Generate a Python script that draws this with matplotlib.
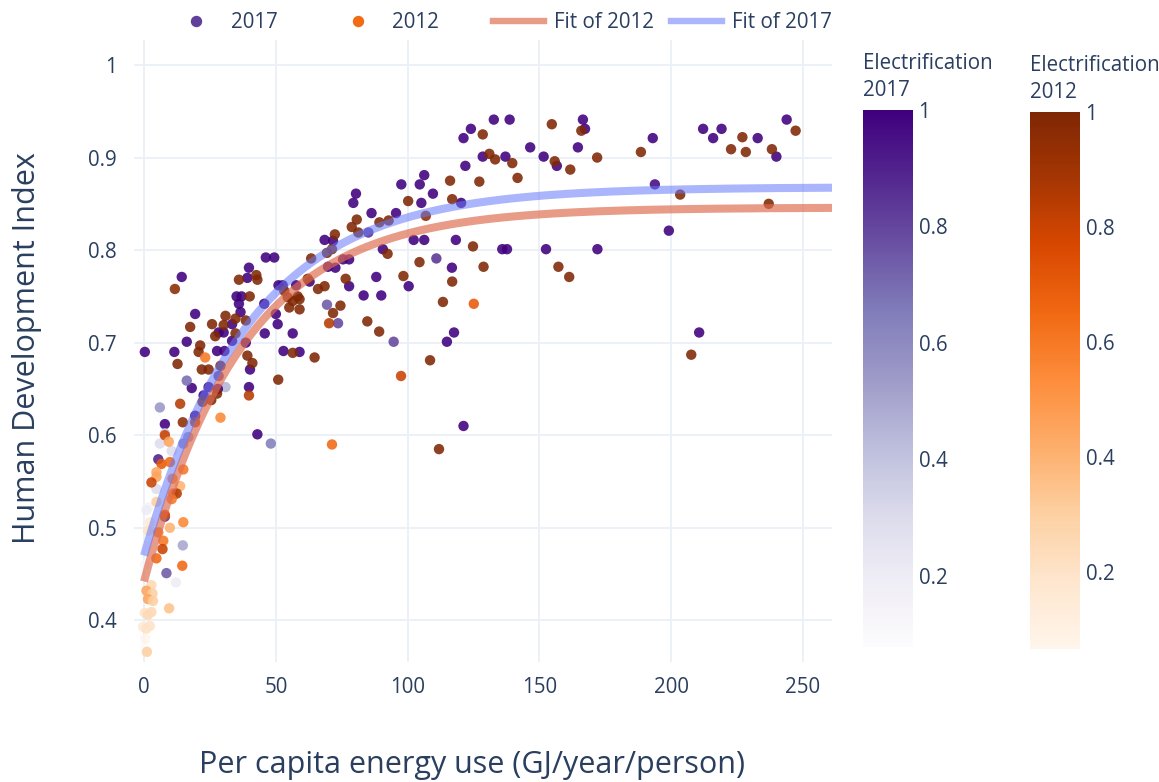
import numpy as np
import matplotlib
matplotlib.use("Agg")
import matplotlib.pyplot as plt
from matplotlib.lines import Line2D
from matplotlib.colors import Normalize
from matplotlib.cm import ScalarMappable

plt.rcParams['font.family'] = ['Open Sans', 'DejaVu Sans']

# ---------------- data ----------------
# 2017: per-capita energy use (GJ), HDI, electrification share
x17 = [166.5, 167.3, 164.6, 156.6, 193.0, 193.8, 199.1, 172.0, 210.6, 212.1, 215.9, 219.1, 232.8, 239.9, 243.8,
       132.7, 138.7, 124.0, 121.2, 128.5, 137.1, 146.5, 151.6, 121.9, 120.3, 97.6, 104.6, 106.3, 109.6, 105.2,
       95.6, 80.4, 79.4, 86.3, 85.1, 90.6, 102.3, 106.3, 118.3, 135.9, 137.7, 152.5, 116.8, 110.9, 100.4,
       88.1, 90.0, 83.3, 77.8, 62.8, 68.5, 71.7, 72.6, 69.8, 75.5, 77.8, 69.4, 73.6, 94.7, 117.6, 114.9, 121.2,
       46.2, 49.4, 39.8, 39.2, 35.1, 37.0, 36.0, 45.6, 36.6, 51.0, 52.6, 33.4, 30.2, 28.3, 33.4, 45.8, 50.7,
       50.0, 38.6, 56.4, 57.7, 27.7, 30.5, 52.9, 59.0, 40.2, 28.3, 30.9, 39.8, 24.5, 28.0, 18.1, 16.2, 22.6,
       19.4, 7.9, 6.0, 43.0, 48.1, 0.3, 11.5, 14.3, 19.4, 16.2,
       6.0, 7.9, 10.5, 14.9, 16.8, 5.4, 4.7, 1.5, 0.9, 7.9, 14.7, 8.5, 12.1, 0.3, 1.0, 0.5]
hdi17 = [0.941, 0.931, 0.911, 0.891, 0.921, 0.871, 0.821, 0.801, 0.711, 0.931, 0.921, 0.931, 0.921, 0.901, 0.941,
         0.941, 0.941, 0.931, 0.921, 0.901, 0.901, 0.911, 0.901, 0.891, 0.851, 0.871, 0.871, 0.881, 0.861, 0.851,
         0.840, 0.861, 0.851, 0.840, 0.819, 0.801, 0.811, 0.811, 0.811, 0.801, 0.801, 0.801, 0.781, 0.791, 0.761,
         0.771, 0.751, 0.751, 0.761, 0.766, 0.811, 0.810, 0.781, 0.782, 0.790, 0.790, 0.741, 0.721, 0.701, 0.711, 0.701, 0.610,
         0.792, 0.792, 0.781, 0.770, 0.750, 0.750, 0.742, 0.742, 0.733, 0.762, 0.762, 0.720, 0.711, 0.711, 0.702, 0.710, 0.720,
         0.731, 0.700, 0.710, 0.762, 0.691, 0.691, 0.691, 0.690, 0.671, 0.664, 0.652, 0.652, 0.652, 0.650, 0.651, 0.659, 0.643,
         0.621, 0.612, 0.630, 0.601, 0.591, 0.690, 0.690, 0.771, 0.731, 0.701,
         0.591, 0.602, 0.583, 0.591, 0.598, 0.574, 0.542, 0.522, 0.519, 0.512, 0.481, 0.451, 0.441, 0.371, 0.480, 0.460]
elec17 = [1.0, 1.0, 1.0, 1.0, 1.0, 0.97, 1.0, 1.0, 1.0, 1.0, 1.0, 1.0, 1.0, 1.0, 1.0,
          1.0, 1.0, 1.0, 1.0, 1.0, 1.0, 1.0, 1.0, 1.0, 1.0, 1.0, 1.0, 1.0, 1.0, 1.0,
          1.0, 1.0, 1.0, 1.0, 0.85, 1.0, 1.0, 1.0, 1.0, 1.0, 1.0, 1.0, 1.0, 0.85, 1.0,
          1.0, 1.0, 1.0, 1.0, 1.0, 1.0, 1.0, 1.0, 1.0, 1.0, 1.0, 0.75, 0.8, 0.8, 1.0, 1.0, 1.0,
          1.0, 1.0, 1.0, 1.0, 1.0, 1.0, 1.0, 1.0, 1.0, 1.0, 1.0, 1.0, 1.0, 1.0, 1.0, 1.0, 1.0,
          1.0, 1.0, 1.0, 1.0, 1.0, 1.0, 1.0, 1.0, 1.0, 0.8, 0.45, 1.0, 1.0, 1.0, 1.0, 0.7, 1.0,
          1.0, 1.0, 0.55, 1.0, 0.65, 1.0, 1.0, 1.0, 1.0, 1.0,
          0.3, 0.35, 0.3, 0.6, 0.55, 0.9, 0.3, 0.15, 0.2, 0.85, 0.5, 0.75, 0.2, 0.078, 0.1, 0.12]

# 2012
x12 = [165.9, 154.7, 155.8, 161.7, 171.9, 188.5, 203.4, 157.2, 161.3, 207.6, 222.7, 227.0, 228.3, 238.2, 247.2, 237.0,
       128.5, 131.0, 133.2, 139.7, 141.7, 116.1, 127.2, 116.9, 100.2, 106.9, 78.8, 80.7, 81.3, 89.3, 92.8, 92.4,
       124.8, 128.8, 116.9, 104.5, 98.4, 76.5, 63.4, 66.0, 68.5, 72.4, 69.4, 71.3, 74.5, 71.7, 70.2, 84.7, 89.2,
       113.4, 125.1, 64.7, 108.5, 97.5, 71.3, 111.9, 59.0, 59.0,
       36.0, 42.6, 43.0, 40.1, 30.9, 34.7, 25.8, 38.6, 27.0, 34.7, 30.2, 21.3, 20.7, 23.2, 56.4, 39.2, 41.1, 29.0,
       21.9, 24.5, 50.9, 39.8, 27.7, 22.2, 29.0, 11.7, 17.5, 12.7, 13.7, 14.7, 25.5, 19.4, 53.2, 54.5, 56.4, 58.3,
       55.1, 62.1,
       7.9, 9.4, 6.6, 9.8, 4.7, 4.7, 2.8, 14.9, 10.8, 13.7, 11.1, 12.4, 4.7, 7.9, 10.5, 14.9, 9.8, 14.5, 7.3, 7.0,
       4.7, 5.4, 2.2, 1.5, 2.8, 0.9, 3.2, 1.5, 3.4, 9.5, 2.8, 0.3, 1.5, -0.4, 2.2, 0.9, 1.1, 0.5]
hdi12 = [0.929, 0.936, 0.896, 0.887, 0.900, 0.906, 0.860, 0.782, 0.771, 0.687, 0.909, 0.922, 0.906, 0.909, 0.929, 0.850,
         0.925, 0.904, 0.898, 0.894, 0.878, 0.875, 0.874, 0.855, 0.853, 0.837, 0.825, 0.833, 0.819, 0.830, 0.832, 0.796,
         0.804, 0.782, 0.766, 0.787, 0.772, 0.769, 0.791, 0.758, 0.761, 0.817, 0.797, 0.801, 0.740, 0.732, 0.721, 0.723, 0.712,
         0.744, 0.742, 0.684, 0.681, 0.664, 0.590, 0.585, 0.747, 0.736,
         0.768, 0.773, 0.768, 0.750, 0.729, 0.726, 0.720, 0.724, 0.707, 0.710, 0.719, 0.697, 0.690, 0.684, 0.689, 0.686, 0.678, 0.675,
         0.671, 0.671, 0.660, 0.643, 0.645, 0.636, 0.619, 0.758, 0.717, 0.677, 0.634, 0.614, 0.638, 0.614, 0.756, 0.749, 0.745, 0.750,
         0.738, 0.769,
         0.600, 0.593, 0.569, 0.571, 0.560, 0.555, 0.549, 0.563, 0.553, 0.545, 0.537, 0.537, 0.528, 0.514, 0.531, 0.506, 0.500, 0.459, 0.486, 0.477,
         0.467, 0.495, 0.506, 0.497, 0.438, 0.432, 0.429, 0.423, 0.421, 0.413, 0.409, 0.408, 0.406, 0.393, 0.394, 0.391, 0.366, 0.380]
elec12 = [1.0, 1.0, 1.0, 1.0, 1.0, 1.0, 1.0, 1.0, 1.0, 1.0, 1.0, 1.0, 1.0, 1.0, 1.0, 1.0,
          1.0, 1.0, 1.0, 1.0, 1.0, 1.0, 1.0, 1.0, 1.0, 0.95, 1.0, 1.0, 1.0, 1.0, 1.0, 1.0,
          1.0, 1.0, 1.0, 1.0, 1.0, 1.0, 1.0, 1.0, 1.0, 1.0, 1.0, 1.0, 1.0, 1.0, 0.85, 1.0, 1.0,
          1.0, 0.7, 1.0, 1.0, 0.8, 0.65, 1.0, 1.0, 1.0,
          1.0, 1.0, 1.0, 1.0, 1.0, 1.0, 1.0, 1.0, 1.0, 1.0, 1.0, 1.0, 1.0, 0.6, 1.0, 1.0, 1.0, 1.0,
          1.0, 1.0, 1.0, 0.85, 1.0, 1.0, 0.55, 0.97, 1.0, 1.0, 0.85, 0.95, 1.0, 0.85, 1.0, 1.0, 1.0, 1.0,
          1.0, 1.0,
          0.8, 0.45, 0.7, 0.65, 0.45, 0.45, 0.8, 0.6, 0.55, 0.4, 0.6, 0.85, 0.3, 0.75, 0.6, 0.55, 0.4, 0.65, 0.6, 0.8,
          0.65, 0.6, 0.15, 0.2, 0.25, 0.45, 0.3, 0.45, 0.3, 0.35, 0.25, 0.2, 0.25, 0.15, 0.2, 0.2, 0.3, 0.066]

# saturating-exponential fit parameters: y = a - b*exp(-x/c)
fit12 = dict(a=0.846, b=0.404, c=37.5)
fit17 = dict(a=0.868, b=0.398, c=40.0)

xticks = [0, 50, 100, 150, 200, 250]
yticks = [0.4, 0.5, 0.6, 0.7, 0.8, 0.9, 1.0]
ytick_labels = ['0.4', '0.5', '0.6', '0.7', '0.8', '0.9', '1']
cb_ticks = [0.2, 0.4, 0.6, 0.8, 1.0]
cb_labels = ['0.2', '0.4', '0.6', '0.8', '1']

# ---------------- figure ----------------
W, H = 1159, 782
TXT = '#2a3f5f'
GRID = '#EBF0F8'
FS = 14.8
fig = plt.figure(figsize=(W / 100, H / 100), dpi=100)

def fx(px):
    return px / W

def fy(py):
    return 1 - py / H

ax = fig.add_axes([fx(133.5), fy(662), (832 - 133.5) / W, (662 - 40) / H])
ax.set_xlim(-4.0, 261.0)
ax.set_ylim(0.355, 1.027)
for s in ax.spines.values():
    s.set_visible(False)
ax.set_xticks(xticks)
ax.set_xticklabels([str(t) for t in xticks])
ax.set_yticks(yticks)
ax.set_yticklabels(ytick_labels)
ax.grid(True, color=GRID, lw=1.3, zorder=0)
ax.set_axisbelow(True)
ax.tick_params(axis='both', length=0, labelsize=FS, colors=TXT)
ax.tick_params(axis='x', pad=11)
ax.tick_params(axis='y', pad=12)

cmap17 = plt.get_cmap('Purples')
cmap12 = plt.get_cmap('Oranges')
norm17 = Normalize(vmin=min(elec17), vmax=max(elec17))
norm12 = Normalize(vmin=min(elec12), vmax=max(elec12))

ax.scatter(x17, hdi17, c=elec17, cmap=cmap17, norm=norm17, s=56, alpha=0.88, linewidths=0, zorder=3)
ax.scatter(x12, hdi12, c=elec12, cmap=cmap12, norm=norm12, s=56, alpha=0.88, linewidths=0, zorder=4)

xf = np.linspace(0, 261.0, 300)
y12f = fit12['a'] - fit12['b'] * np.exp(-xf / fit12['c'])
y17f = fit17['a'] - fit17['b'] * np.exp(-xf / fit17['c'])
red_line = '#DE6C4F'
blue_line = '#6478FA'
ax.plot(xf, y12f, color=red_line, alpha=0.68, lw=5.8, solid_capstyle='butt', zorder=5)
ax.plot(xf, y17f, color=blue_line, alpha=0.55, lw=5.8, solid_capstyle='butt', zorder=6)

# axis titles
fig.text(fx(472), fy(765), 'Per capita energy use (GJ/year/person)', ha='center', va='center',
         fontsize=22, color=TXT)
fig.text(fx(27), fy(348), 'Human Development Index', ha='center', va='center', rotation=90,
         fontsize=22, color=TXT)

# colorbars
def add_cbar(left, top, bottom, cmap, norm, year, base1, base2):
    cax = fig.add_axes([fx(left), fy(bottom), 50 / W, (bottom - top) / H])
    cb = fig.colorbar(ScalarMappable(norm=norm, cmap=cmap), cax=cax)
    cb.outline.set_visible(False)
    cb.set_ticks(cb_ticks)
    cb.set_ticklabels(cb_labels)
    cax.tick_params(length=0, labelsize=FS, colors=TXT, pad=4)
    fig.text(fx(left), fy(base1), 'Electrification', ha='left', va='baseline', fontsize=FS, color=TXT)
    fig.text(fx(left), fy(base2), year, ha='left', va='baseline', fontsize=FS, color=TXT)

add_cbar(863, 110, 647, cmap17, norm17, '2017', 69, 96)
add_cbar(1030, 112, 649, cmap12, norm12, '2012', 71, 98)

# legend (horizontal, above the plot)
ly = fy(21)
fig.add_artist(Line2D([fx(196)], [ly], marker='o', ms=7.2, color=cmap17(0.8), lw=0))
fig.add_artist(Line2D([fx(357.7)], [ly], marker='o', ms=7.2, color=cmap12(0.62), lw=0))
fig.add_artist(Line2D([fx(493), fx(544)], [ly, ly], color=red_line, alpha=0.68, lw=4.6))
fig.add_artist(Line2D([fx(671), fx(722)], [ly, ly], color=blue_line, alpha=0.55, lw=4.6))
for px, label in [(231, '2017'), (392, '2012'), (554, 'Fit of 2012'), (732, 'Fit of 2017')]:
    fig.text(fx(px), fy(22), label, ha='left', va='center', fontsize=FS, color=TXT)

fig.savefig('out.png', dpi=100)
